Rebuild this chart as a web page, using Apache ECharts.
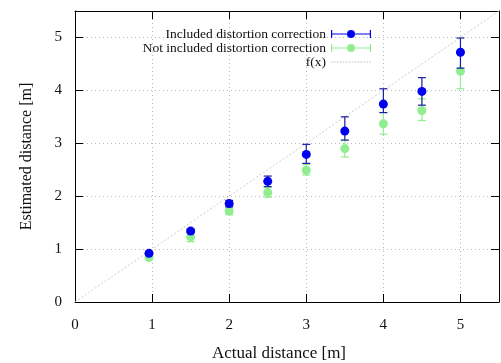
<!DOCTYPE html>
<html>
<head>
<meta charset="utf-8">
<script src="https://cdn.jsdelivr.net/npm/echarts@6/dist/echarts.min.js"></script>
<style>
  html, body { margin: 0; padding: 0; background: #fff; }
  #chart { width: 501px; height: 363px; }
</style>
</head>
<body>
<div id="chart"></div>
<script>
// actual distance [m] of each measurement
const actualDist = [0.96, 1.5, 2, 2.5, 3, 3.5, 4, 4.5, 5];
// estimated distance, with distortion correction
const withCorr     = [0.92, 1.34, 1.86, 2.28, 2.79, 3.23, 3.74, 3.98, 4.72];
const withCorrLow  = [0.89, 1.31, 1.80, 2.18, 2.62, 3.06, 3.58, 3.72, 4.42];
const withCorrHigh = [0.95, 1.38, 1.92, 2.38, 2.98, 3.50, 4.03, 4.24, 4.99];
// estimated distance, without distortion correction
const noCorr     = [0.84, 1.23, 1.72, 2.07, 2.49, 2.90, 3.37, 3.62, 4.36];
const noCorrLow  = [0.81, 1.14, 1.65, 1.98, 2.40, 2.74, 3.17, 3.43, 4.03];
const noCorrHigh = [0.87, 1.32, 1.78, 2.17, 2.60, 3.06, 3.58, 3.84, 4.69];
// f(x) = x reference line
const fxRange = [0, 5.5];

const nameWith = 'Included distortion correction';
const nameNo = 'Not included distortion correction';
const serif = 'Liberation Serif';

const blue = '#0000f0';
const blueBar = '#1c1ca0';
const green = '#90ee90';

const chart = echarts.init(document.getElementById('chart'));

function errBars(color) {
  return function (params, api) {
    const x = api.value(0);
    const top = api.coord([x, api.value(2)]);
    const bot = api.coord([x, api.value(1)]);
    const w = 4;
    const style = { stroke: color, lineWidth: 1.2 };
    return {
      type: 'group',
      children: [
        { type: 'line', shape: { x1: top[0], y1: top[1], x2: bot[0], y2: bot[1] }, style: style },
        { type: 'line', shape: { x1: top[0] - w, y1: top[1], x2: top[0] + w, y2: top[1] }, style: style },
        { type: 'line', shape: { x1: bot[0] - w, y1: bot[1], x2: bot[0] + w, y2: bot[1] }, style: style }
      ]
    };
  };
}

// legend icons drawn like gnuplot key samples
const errIcon = 'path://M0,4.4h16v1.2h-16Z M24,4.4h16v1.2h-16Z M0,1h1.2v8h-1.2Z M38.8,1h1.2v8h-1.2Z M16,5a4,4 0 1,0 8,0a4,4 0 1,0 -8,0Z';
let dots = '';
for (let i = 0; i < 40; i += 3) dots += 'M' + i + ',4.5h1.5v1h-1.5Z ';
const dotIcon = 'path://M0,0h0.01v0.01h-0.01Z M40,10h-0.01v-0.01h0.01Z ' + dots;

const tickLabel = { fontFamily: serif, fontSize: 15, color: '#111' };

const xAxisBase = {
  type: 'value', min: 0, max: 5.5, interval: 1,
  axisLine: { show: true, onZero: false, lineStyle: { color: '#000', width: 1 } },
  axisTick: { show: true, inside: true, length: 8, lineStyle: { color: '#000' } }
};

option = {
  animation: false,
  backgroundColor: '#fff',
  grid: { left: 75, right: 2, top: 11, bottom: 61, outerBoundsMode: 'none', containLabel: false },
  legend: {
    orient: 'vertical',
    align: 'right',
    right: 125,
    top: 22,
    itemWidth: 40,
    itemHeight: 10,
    itemGap: 0,
    selectedMode: false,
    textStyle: { fontFamily: serif, fontSize: 13.5, color: '#111' },
    data: [
      { name: nameWith, icon: errIcon },
      { name: nameNo, icon: errIcon },
      { name: 'f(x)', icon: dotIcon }
    ]
  },
  xAxis: [
    Object.assign({}, xAxisBase, {
      position: 'bottom',
      name: 'Actual distance [m]',
      nameLocation: 'middle',
      nameGap: 43,
      nameTextStyle: { fontFamily: serif, fontSize: 17, color: '#111', padding: [0, 16, 0, 0] },
      axisLabel: Object.assign({ margin: 16, formatter: v => Number.isInteger(v) ? String(v) : '' }, tickLabel),
      splitLine: { show: true, lineStyle: { type: [1, 3], color: '#b8b8b8' } }
    }),
    Object.assign({}, xAxisBase, {
      position: 'top',
      axisLabel: { show: false },
      splitLine: { show: false }
    })
  ],
  yAxis: [
    Object.assign({}, xAxisBase, {
      position: 'left',
      name: 'Estimated distance [m]',
      nameLocation: 'middle',
      nameGap: 40,
      nameTextStyle: { fontFamily: serif, fontSize: 16, color: '#111' },
      axisLabel: Object.assign({ margin: 13, formatter: v => Number.isInteger(v) ? String(v) : '' }, tickLabel),
      splitLine: { show: true, lineStyle: { type: [1, 3], color: '#b8b8b8' } }
    }),
    Object.assign({}, xAxisBase, {
      position: 'right',
      axisLabel: { show: false },
      splitLine: { show: false }
    })
  ],
  series: [
    {
      name: 'f(x)',
      type: 'line',
      data: fxRange.map(v => [v, v]),
      symbol: 'none',
      itemStyle: { color: '#c4bcc4' },
      lineStyle: { color: '#d0c8d0', width: 1, type: [2, 2] },
      z: 1
    },
    {
      type: 'custom',
      renderItem: errBars(green),
      data: actualDist.map((x, i) => [x, noCorrLow[i], noCorrHigh[i]]),
      encode: { x: 0, y: [1, 2] },
      z: 2
    },
    {
      name: nameNo,
      type: 'scatter',
      data: actualDist.map((x, i) => [x, noCorr[i]]),
      symbolSize: 9,
      itemStyle: { color: green, opacity: 1 },
      z: 3
    },
    {
      type: 'custom',
      renderItem: errBars(blueBar),
      data: actualDist.map((x, i) => [x, withCorrLow[i], withCorrHigh[i]]),
      encode: { x: 0, y: [1, 2] },
      z: 4
    },
    {
      name: nameWith,
      type: 'scatter',
      data: actualDist.map((x, i) => [x, withCorr[i]]),
      symbolSize: 9,
      itemStyle: { color: blue, opacity: 1 },
      z: 5
    }
  ]
};

chart.setOption(option);
</script>
</body>
</html>
